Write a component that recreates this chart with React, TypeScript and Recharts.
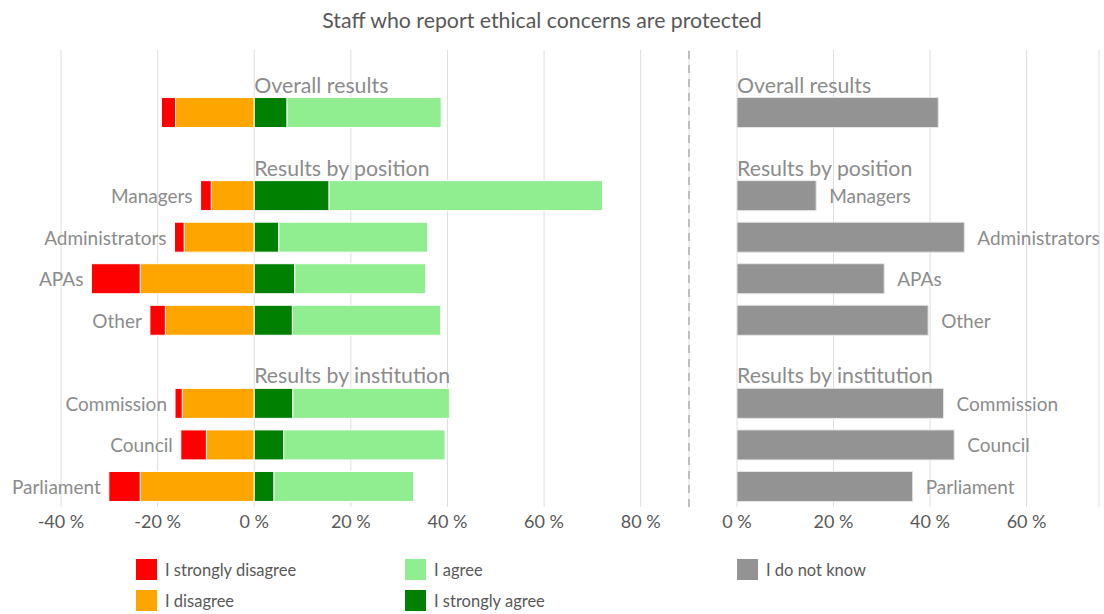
import React from 'react';
import { BarChart, Bar, XAxis, YAxis, CartesianGrid, LabelList, ReferenceLine } from 'recharts';

// Rows (blank rows leave room for the group headings)
const rowIds = ['r0', 'overall', 'r2', 'managers', 'administrators', 'apas', 'other', 'r7', 'commission', 'council', 'parliament'];
const rowLabels = ['', '', '', 'Managers', 'Administrators', 'APAs', 'Other', '', 'Commission', 'Council', 'Parliament'];
const headings = ['', 'Overall results', '', 'Results by position', '', '', '', '', 'Results by institution', '', ''];

// Values in %
const stronglyDisagree = [null, 2.9, null, 2.2, 2.0, 10.1, 3.2, null, 1.5, 5.3, 6.5];
const disagree = [null, 16.3, null, 8.9, 14.5, 23.6, 18.4, null, 14.9, 9.9, 23.6];
const stronglyAgree = [null, 6.8, null, 15.5, 5.1, 8.4, 7.9, null, 8.0, 6.1, 4.1];
const agree = [null, 31.9, null, 56.6, 30.8, 27.1, 30.7, null, 32.4, 33.4, 28.9];
const dontKnow = [null, 41.7, null, 16.4, 47.1, 30.5, 39.6, null, 42.8, 45.0, 36.4];

const leftTicks = [-40, -20, 0, 20, 40, 60, 80];
const rightTicks = [0, 20, 40, 60];

const legendItems = [
  { name: 'I strongly disagree', color: '#ff0000', x: 136, y: 559 },
  { name: 'I disagree', color: '#ffa500', x: 136, y: 590 },
  { name: 'I agree', color: '#90ee90', x: 405, y: 559 },
  { name: 'I strongly agree', color: '#008000', x: 405, y: 590 },
  { name: 'I do not know', color: '#939393', x: 737, y: 559 },
];

const data = rowIds.map((id, i) => ({
  id,
  label: rowLabels[i],
  heading: headings[i],
  sd: stronglyDisagree[i] == null ? null : -(stronglyDisagree[i] as number),
  d: disagree[i] == null ? null : -(disagree[i] as number),
  sa: stronglyAgree[i],
  a: agree[i],
  dk: dontKnow[i],
}));

const FONT = 'Lato, "Open Sans", sans-serif';
const LABEL_COLOR = '#8c8c8c';
const TEXT_COLOR = '#595959';

function box(props: any) {
  const vb = props.viewBox || {};
  const x = props.x ?? vb.x;
  const y = props.y ?? vb.y;
  const width = props.width ?? vb.width;
  const height = props.height ?? vb.height;
  return { x: Number(x), y: Number(y), width: Number(width), height: Number(height) };
}

const LeftCatLabel = (props: any) => {
  if (!props.value) return null;
  const { x, y, width, height } = box(props);
  const left = Math.min(x, x + width);
  return (
    <text x={left - 8} y={y + height / 2} textAnchor="end" dominantBaseline="central" fill={LABEL_COLOR} fontSize={19} fontFamily={FONT}>
      {props.value}
    </text>
  );
};

const RightCatLabel = (props: any) => {
  if (!props.value) return null;
  const { x, y, width, height } = box(props);
  const right = Math.max(x, x + width);
  return (
    <text x={right + 13} y={y + height / 2} textAnchor="start" dominantBaseline="central" fill={LABEL_COLOR} fontSize={19} fontFamily={FONT}>
      {props.value}
    </text>
  );
};

const HeadingLabel = (props: any) => {
  if (!props.value) return null;
  const { x, y, width } = box(props);
  const left = Math.min(x, x + width);
  return (
    <text x={left} y={y - 5} textAnchor="start" fill={LABEL_COLOR} fontSize={21.3} fontFamily={FONT}>
      {props.value}
    </text>
  );
};

const fmt = (v: number) => `${v} %`;

export default function App() {
  return (
    <div style={{ position: 'fixed', left: 0, top: 0, width: 1104, height: 614, background: '#fff', fontFamily: FONT }}>
      <div style={{ position: 'absolute', left: 0, top: 7, width: 1084, textAlign: 'center', fontSize: 21.3, lineHeight: '26px', color: TEXT_COLOR }}>
        Staff who report ethical concerns are protected
      </div>

      <div style={{ position: 'absolute', left: 0, top: 0 }}>
        <BarChart width={700} height={540} data={data} layout="vertical" stackOffset="sign" barSize={30}
          margin={{ top: 50, right: 11, bottom: 3, left: 61 }}>
          <CartesianGrid horizontal={false} stroke="#dedede" />
          <XAxis type="number" domain={[-40, 90]} ticks={leftTicks} tickFormatter={fmt} axisLine={false} tickLine={false}
            height={30} tick={{ fill: TEXT_COLOR, fontSize: 18, fontFamily: FONT }} interval={0} />
          <YAxis type="category" dataKey="id" hide width={0} />
          <ReferenceLine x={90} stroke="#b0b0b0" strokeWidth={1.5} strokeDasharray="8 6" />
          <Bar dataKey="d" stackId="s" fill="#ffa500" stroke="#ffffff" strokeWidth={1} isAnimationActive={false} />
          <Bar dataKey="sd" stackId="s" fill="#ff0000" stroke="#ffffff" strokeWidth={1} isAnimationActive={false}>
            <LabelList dataKey="label" content={LeftCatLabel} />
          </Bar>
          <Bar dataKey="sa" stackId="s" fill="#008000" stroke="#ffffff" strokeWidth={1} isAnimationActive={false}>
            <LabelList dataKey="heading" content={HeadingLabel} />
          </Bar>
          <Bar dataKey="a" stackId="s" fill="#90ee90" stroke="#ffffff" strokeWidth={1} isAnimationActive={false} />
        </BarChart>
      </div>

      <div style={{ position: 'absolute', left: 700, top: 0 }}>
        <BarChart width={404} height={540} data={data} layout="vertical" barSize={30}
          margin={{ top: 50, right: 5, bottom: 3, left: 37 }}>
          <CartesianGrid horizontal={false} stroke="#dedede" />
          <XAxis type="number" domain={[0, 75]} ticks={rightTicks} tickFormatter={fmt} axisLine={false} tickLine={false}
            height={30} tick={{ fill: TEXT_COLOR, fontSize: 18, fontFamily: FONT }} interval={0} />
          <YAxis type="category" dataKey="id" hide width={0} />
          <Bar dataKey="dk" fill="#939393" stroke="#e6e6e6" strokeWidth={1} isAnimationActive={false}>
            <LabelList dataKey="label" content={RightCatLabel} />
            <LabelList dataKey="heading" content={HeadingLabel} />
          </Bar>
        </BarChart>
      </div>

      {legendItems.map((it) => (
        <div key={it.name} style={{ position: 'absolute', left: it.x, top: it.y, height: 21, display: 'flex', alignItems: 'center' }}>
          <div style={{ width: 21, height: 21, background: it.color }} />
          <span style={{ marginLeft: 8, fontSize: 16.5, color: TEXT_COLOR, whiteSpace: 'nowrap' }}>{it.name}</span>
        </div>
      ))}
    </div>
  );
}
